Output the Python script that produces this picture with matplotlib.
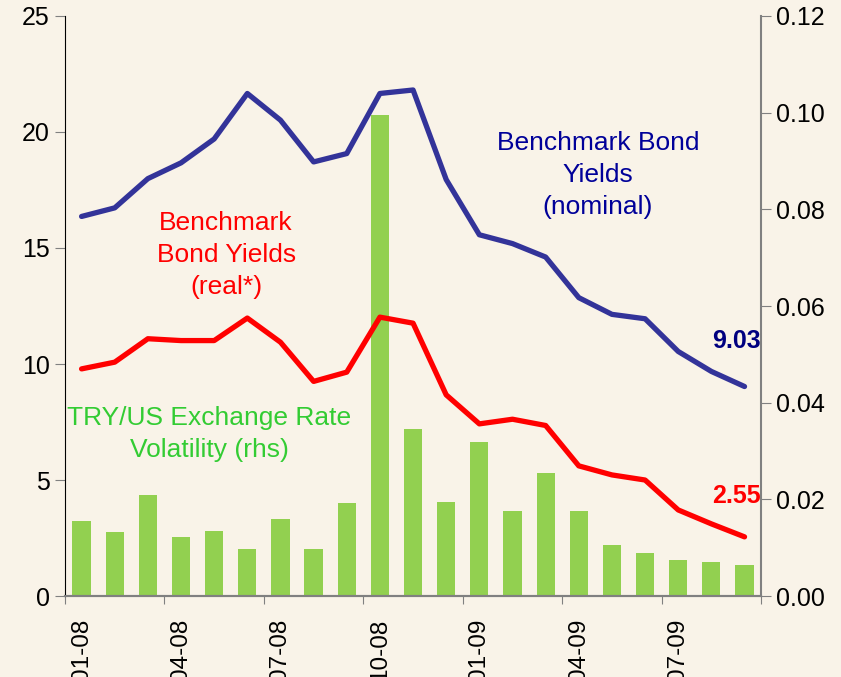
import numpy as np
import matplotlib.pyplot as plt

plt.rcParams['font.family'] = ['Liberation Sans', 'DejaVu Sans']

months = ['01-08', '02-08', '03-08', '04-08', '05-08', '06-08', '07-08',
          '08-08', '09-08', '10-08', '11-08', '12-08', '01-09', '02-09',
          '03-09', '04-09', '05-09', '06-09', '07-09', '08-09', '09-09']

nominal = [16.36, 16.73, 17.99, 18.67, 19.70, 21.66, 20.51, 18.71, 19.07, 21.66,
           21.81, 17.95, 15.57, 15.19, 14.61, 12.86, 12.14, 11.95, 10.54, 9.68, 9.03]
real = [9.79, 10.08, 11.09, 11.01, 11.01, 11.98, 10.94, 9.25, 9.65, 12.02,
        11.76, 8.67, 7.42, 7.62, 7.35, 5.61, 5.22, 5.00, 3.71, 3.11, 2.55]
volatility = [0.0155, 0.0133, 0.0209, 0.0122, 0.0135, 0.0097, 0.0159, 0.0097,
              0.0193, 0.0996, 0.0346, 0.0195, 0.0319, 0.0176, 0.0255, 0.0176,
              0.0106, 0.0089, 0.0075, 0.0070, 0.0064]

bg = '#F9F3E8'
x = np.arange(len(months))

fig = plt.figure(figsize=(8.41, 6.77), dpi=100, facecolor=bg)
ax = fig.add_axes([0.0773, 0.1196, 0.8277, 0.8568])
ax2 = ax.twinx()
ax.set_zorder(ax2.get_zorder() + 1)
ax.patch.set_visible(False)
ax2.set_facecolor(bg)

ax2.bar(x, volatility, width=0.55, color='#92D050')
ax.plot(x, nominal, color='#333399', lw=3.8, solid_capstyle='round')
ax.plot(x, real, color='#FF0000', lw=3.8, solid_capstyle='round')

ax.set_xlim(-0.5, len(months) - 0.5)
ax.set_ylim(0, 25)
ax2.set_ylim(0, 0.12)
ax.set_yticks(np.arange(0, 26, 5))
ax2.set_yticks(np.arange(0, 0.121, 0.02))
ax2.set_yticklabels([f'{v:.2f}' for v in np.arange(0, 0.121, 0.02)])

# ticks at group boundaries, labels at category centres
ax.set_xticks(np.arange(-0.5, len(months), 3))
ax.set_xticklabels([])
ax.set_xticks(x[::3], minor=True)
ax.set_xticklabels(months[::3], minor=True, rotation=90, fontsize=17.5)
ax.tick_params(axis='x', which='minor', length=0, pad=16)
ax.tick_params(axis='x', which='major', length=6, color='#808080')
ax.tick_params(axis='y', labelsize=18, length=7, color='#808080', pad=4)
ax2.tick_params(axis='y', labelsize=18, length=7, color='#808080', pad=4)

for a in (ax, ax2):
    a.spines['top'].set_visible(False)
    a.spines['bottom'].set_color('#808080')
    a.spines['bottom'].set_linewidth(1.5)
ax.spines['right'].set_visible(False)
ax2.spines['left'].set_visible(False)
ax.spines['left'].set_color('black')
ax2.spines['right'].set_color('#808080')
ax2.spines['right'].set_linewidth(1.5)

ax.text(15.58, 18.16, 'Benchmark Bond\nYields\n(nominal)', color='#000099',
        fontsize=19, ha='center', va='center', linespacing=1.42)
ax.text(4.36, 14.71, 'Benchmark\nBond Yields\n(real*)', color='#FF0000',
        fontsize=19, ha='center', va='center', linespacing=1.42)
ax.text(3.85, 6.99, 'TRY/US Exchange Rate\nVolatility (rhs)', color='#33CC33',
        fontsize=19, ha='center', va='center', linespacing=1.42)
ax.text(20.5, 11.0, f'{nominal[-1]:.2f}', color='#000080', fontsize=18,
        fontweight='bold', ha='right', va='center')
ax.text(20.5, 4.3, f'{real[-1]:.2f}', color='#FF0000', fontsize=18,
        fontweight='bold', ha='right', va='center')

fig.savefig('out.png', dpi=100, facecolor=bg)
